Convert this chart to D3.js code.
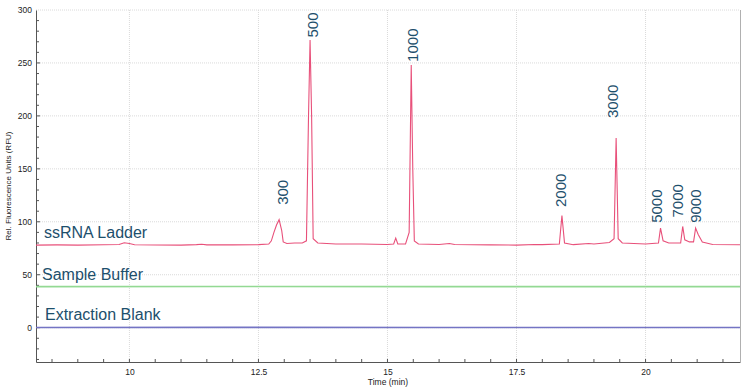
<!DOCTYPE html>
<html>
<head>
<meta charset="utf-8">
<script src="https://cdn.jsdelivr.net/npm/d3@7"></script>
<style>
  body { margin:0; background:#fff; }
  svg { display:block; font-family:"Liberation Sans", Arial, sans-serif; }
</style>
</head>
<body>
<svg id="chart" width="750" height="391"></svg>
<script>
// ladder trace: [time (min), RFU]
const ladderTrace = [
  [8.19,78],[8.6,78.2],[9.0,78.0],[9.5,78.3],[9.8,78.5],[9.9,80.2],[10.0,79.5],[10.1,78.3],
  [10.5,78.1],[11.0,78.0],[11.3,78.4],[11.4,78.8],[11.5,78.2],[12.0,78.2],[12.5,78.4],
  [12.7,79],[12.75,82],[12.8,90],[12.85,97],[12.9,102],[12.95,92],[12.98,81],[13.05,79.5],
  [13.2,80],[13.35,80],[13.43,82],[13.47,200],[13.5,271.7],[13.53,200],[13.56,84],[13.65,80],
  [14.0,79],[14.5,79],[15.0,78.5],[15.12,79],[15.16,84.6],[15.2,79],[15.35,79],[15.42,90],
  [15.46,248],[15.49,150],[15.52,82],[15.6,79],[16.0,78.5],[16.2,79.5],[16.3,78.5],[17.0,78.2],
  [17.5,78],[17.85,78.6],[18.0,78.4],[18.33,79],[18.38,106],[18.43,80],[18.6,78.4],[18.9,79.5],
  [19.0,79],[19.3,80.5],[19.39,84],[19.43,179],[19.47,84],[19.55,80],[20.0,79],[20.25,80],
  [20.29,94],[20.34,82],[20.45,80],[20.68,80],[20.72,95.6],[20.76,83],[20.85,81],[20.93,81],
  [20.97,94],[21.02,88],[21.1,81],[21.3,78.5],[21.83,78.3]
];
const bufferTrace = [[8.19,38.8],[12,38.9],[16,38.8],[21.83,38.8]];
const blankTrace = [[8.19,0.2],[12,0.3],[16,0.2],[21.83,0.2]];

const seriesNames = ['ssRNA Ladder','Sample Buffer','Extraction Blank'];
const seriesBase = [78.3, 38.8, 0.2];

// peak annotations (size, label time, label foot in RFU)
const peakSizes = ['300','500','1000','2000','3000','5000','7000','9000'];
const labelTimes = [12.97,13.55,15.49,18.35,19.36,20.21,20.62,20.965];
const labelAt = [116,274,251,114,198,99,104,99];

const xTicks = [10,12.5,15,17.5,20];
const yTicks = [0,50,100,150,200,250,300];

const svg = d3.select('#chart');
const mLeft=36, mRight=740, mTop=10, mBottom=362;

const x = d3.scaleLinear().domain([8.19,21.83]).range([mLeft,mRight]);
const y = d3.scaleLinear().domain([-32.4,300]).range([mBottom,mTop]);

const textCol = '#1d4f6c';

// grid
svg.append('g').selectAll('line').data(xTicks).join('line')
  .attr('x1',d=>x(d)).attr('x2',d=>x(d)).attr('y1',mTop).attr('y2',mBottom)
  .attr('stroke','#dadada').attr('stroke-dasharray','1,1');
svg.append('g').selectAll('line').data(yTicks).join('line')
  .attr('x1',mLeft).attr('x2',mRight).attr('y1',d=>y(d)).attr('y2',d=>y(d))
  .attr('stroke','#dadada').attr('stroke-dasharray','1,1');

// right border
svg.append('line').attr('x1',mRight+0.5).attr('x2',mRight+0.5).attr('y1',mTop).attr('y2',mBottom)
  .attr('stroke','#b0b0b0');

// axes - ticks point inward
const xAxis = d3.axisBottom(x).tickValues(xTicks).tickSize(0).tickPadding(7)
  .tickFormat(d=>d);
const gx = svg.append('g').attr('transform',`translate(0,${mBottom})`).call(xAxis);
gx.select('.domain').attr('stroke','#555');
gx.selectAll('text').attr('font-size',8.5).attr('fill','#222');
gx.selectAll('.minor').data(d3.range(8.5,21.81,0.5)).join('line')
  .attr('class','minor').attr('x1',d=>x(d)).attr('x2',d=>x(d)).attr('y1',0).attr('y2',-3)
  .attr('stroke','#555');

const yAxis = d3.axisLeft(y).tickValues(yTicks).tickSize(0).tickPadding(4);
const gy = svg.append('g').attr('transform',`translate(${mLeft},0)`).call(yAxis);
gy.select('.domain').attr('stroke','#555');
gy.selectAll('text').attr('font-size',8.5).attr('fill','#222');
gy.selectAll('.minor').data(d3.range(-30,300,10)).join('line')
  .attr('class','minor').attr('x1',0).attr('x2',d=>d%50===0?4:3).attr('y1',d=>y(d)).attr('y2',d=>y(d))
  .attr('stroke','#555');

// axis titles
svg.append('text').attr('x',(mLeft+mRight)/2).attr('y',385).attr('text-anchor','middle')
  .attr('font-size',8.5).attr('fill','#222').text('Time (min)');
svg.append('text').attr('transform',`translate(11,${(mTop+mBottom)/2}) rotate(-90)`)
  .attr('text-anchor','middle').attr('font-size',8).attr('fill','#222')
  .text('Rel. Fluorescence Units (RFU)');

// traces
const line = d3.line().x(d=>x(d[0])).y(d=>y(d[1]));
const colors = ['#e8507a','#93d993','#7474c4'];
[ladderTrace,bufferTrace,blankTrace].forEach((tr,i)=>{
  svg.append('path').datum(tr).attr('d',line).attr('fill','none')
    .attr('stroke',colors[i]).attr('stroke-width',i===0?1.1:1.6);
});

// series names
const nameX = [44,42,45];
svg.append('g').selectAll('text').data(seriesNames).join('text')
  .attr('x',(d,i)=>nameX[i]).attr('y',(d,i)=>y(seriesBase[i])-7)
  .attr('font-size',16).attr('fill',textCol).text(d=>d);

// peak labels
svg.append('g').selectAll('text').data(peakSizes).join('text')
  .attr('transform',(d,i)=>`translate(${x(labelTimes[i])},${y(labelAt[i])}) rotate(-90)`)
  .attr('dy','0.35em')
  .attr('font-size',15).attr('fill',textCol).text(d=>d);
</script>
</body>
</html>
